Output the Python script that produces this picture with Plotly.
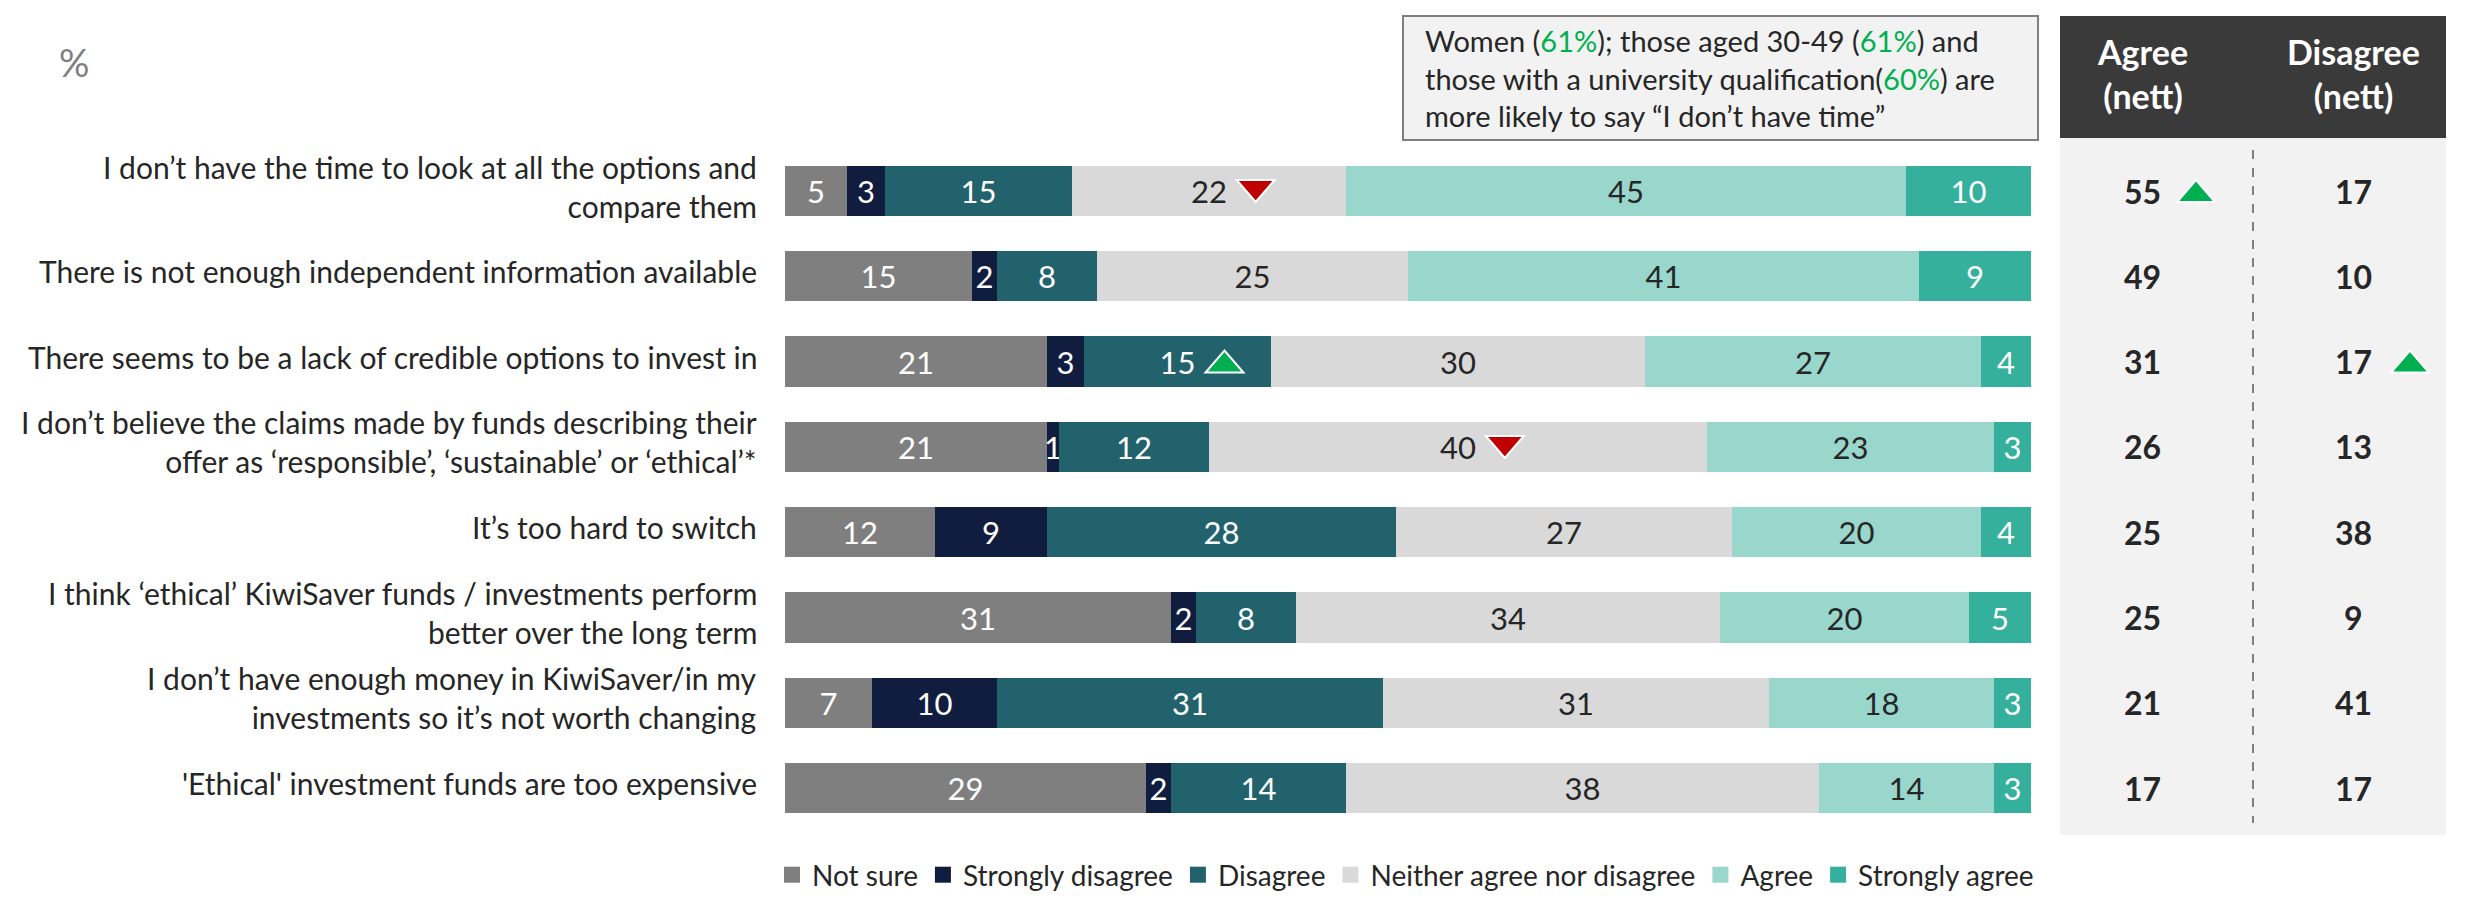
import plotly.graph_objects as go

# ---------------- data ----------------
categories = [
    "I don’t have the time to look at all the options and<br>compare them",
    "There is not enough independent information available",
    "There seems to be a lack of credible options to invest in",
    "I don’t believe the claims made by funds describing their<br>offer as ‘responsible’, ‘sustainable’ or ‘ethical’*",
    "It’s too hard to switch",
    "I think ‘ethical’ KiwiSaver funds / investments perform<br>better over the long term",
    "I don’t have enough money in KiwiSaver/in my<br>investments so it’s not worth changing",
    "'Ethical' investment funds are too expensive",
]
series_names = ["Not sure", "Strongly disagree", "Disagree",
                "Neither agree nor disagree", "Agree", "Strongly agree"]
not_sure          = [5, 15, 21, 21, 12, 31, 7, 29]
strongly_disagree = [3, 2, 3, 1, 9, 2, 10, 2]
disagree          = [15, 8, 15, 12, 28, 8, 31, 14]
neither           = [22, 25, 30, 40, 27, 34, 31, 38]
agree             = [45, 41, 27, 23, 20, 20, 18, 14]
strongly_agree    = [10, 9, 4, 3, 4, 5, 3, 3]
agree_nett    = [55, 49, 31, 26, 25, 25, 21, 17]
disagree_nett = [17, 10, 17, 13, 38, 9, 41, 17]

# significance flags: (row, series index, direction)
bar_flags = [(0, 3, "down"), (2, 2, "up"), (3, 3, "down")]
agree_nett_flags = [0]
disagree_nett_flags = [2]

callout = ("Women (<span style='color:#00b050'>61%</span>); those aged 30-49 "
           "(<span style='color:#00b050'>61%</span>) and<br>those with a university "
           "qualification(<span style='color:#00b050'>60%</span>) are<br>more likely "
           "to say “I don’t have time”")

# ---------------- style / layout ----------------
W, H = 2483, 915
FONT = "Lato"
colors = ["#7f7f7f", "#111d3f", "#21626c", "#d9d9d9", "#99d7cd", "#35b09d"]
text_colors = ["white", "white", "white", "#262626", "#262626", "white"]
BAR_L, BAR_R = 785, 2031
ROW0_Y, ROW_STEP = 191, 85.3
PANEL_L, PANEL_R = 2060, 2446
HEAD_T, HEAD_B, PANEL_B = 16, 138, 835
COL_A, COL_D, DIV_X = 2142, 2353, 2253
RED, GREEN = "#c00000", "#00b050"


def px(x):
    return x / W


def py(y):
    return 1 - y / H


def tri_path(direction, dx):
    hw, hh = 19, 11
    if direction == "down":
        return f"M{dx - hw},{hh} L{dx + hw},{hh} L{dx},{-hh} Z"
    return f"M{dx - hw},{-hh} L{dx + hw},{-hh} L{dx},{hh} Z"


series = [not_sure, strongly_disagree, disagree, neither, agree, strongly_agree]
rows = list(range(len(categories)))

fig = go.Figure()
for name, vals, c, tc in zip(series_names, series, colors, text_colors):
    fig.add_trace(go.Bar(
        name=name, y=rows, x=vals, orientation="h",
        marker=dict(color=c, line=dict(width=0)),
        text=[str(v) for v in vals], textposition="inside",
        insidetextanchor="middle", textangle=0,
        textfont=dict(color=tc, size=31, family=FONT),
        width=0.59, hoverinfo="skip", showlegend=False,
    ))
# legend entries (square swatches)
for name, c in zip(series_names, colors):
    fig.add_trace(go.Scatter(
        x=[None], y=[None], mode="markers", name=name,
        marker=dict(symbol="square", color=c, size=16), hoverinfo="skip",
    ))

shapes = [
    dict(type="rect", xref="paper", yref="paper", x0=px(PANEL_L), x1=px(PANEL_R),
         y0=py(HEAD_B), y1=py(PANEL_B), fillcolor="#f2f2f2", line=dict(width=0), layer="below"),
    dict(type="rect", xref="paper", yref="paper", x0=px(PANEL_L), x1=px(PANEL_R),
         y0=py(HEAD_T), y1=py(HEAD_B), fillcolor="#3a3a3a", line=dict(width=0), layer="below"),
    dict(type="line", xref="paper", yref="paper", x0=px(DIV_X), x1=px(DIV_X),
         y0=py(150), y1=py(823), line=dict(color="#7f7f7f", width=2, dash="dash")),
    dict(type="rect", xref="paper", yref="paper", x0=px(1403), x1=px(2038),
         y0=py(16), y1=py(140), fillcolor="#f2f2f2", line=dict(color="#7f7f7f", width=2),
         layer="below"),
]

# significance triangles on bars (anchored at segment centre, offset in pixels)
for r, s, d in bar_flags:
    start = sum(series[k][r] for k in range(s))
    shapes.append(dict(
        type="path", xref="x", yref="y", xsizemode="pixel", ysizemode="pixel",
        xanchor=start + series[s][r] / 2, yanchor=r, path=tri_path(d, 47),
        fillcolor=RED if d == "down" else GREEN, line=dict(color="white", width=2),
    ))
# significance triangles in nett panel
for r in agree_nett_flags:
    shapes.append(dict(type="path", xref="paper", yref="y", xsizemode="pixel", ysizemode="pixel",
                       xanchor=px(COL_A), yanchor=r, path=tri_path("up", 54),
                       fillcolor=GREEN, line=dict(color="white", width=2)))
for r in disagree_nett_flags:
    shapes.append(dict(type="path", xref="paper", yref="y", xsizemode="pixel", ysizemode="pixel",
                       xanchor=px(COL_D), yanchor=r, path=tri_path("up", 57),
                       fillcolor=GREEN, line=dict(color="white", width=2)))

annotations = []
for i, c in enumerate(categories):
    annotations.append(dict(x=px(759), xref="paper", y=i, yref="y", text=c, yshift=5,
                            xanchor="right", yanchor="middle", align="right",
                            showarrow=False, font=dict(size=30, color="#262626", family=FONT)))
for i, (a, d) in enumerate(zip(agree_nett, disagree_nett)):
    annotations.append(dict(x=px(COL_A), xref="paper", y=i, yref="y", text=f"<b>{a}</b>",
                            xanchor="center", yanchor="middle", showarrow=False,
                            font=dict(size=32, color="#262626", family=FONT)))
    annotations.append(dict(x=px(COL_D), xref="paper", y=i, yref="y", text=f"<b>{d}</b>",
                            xanchor="center", yanchor="middle", showarrow=False,
                            font=dict(size=32, color="#262626", family=FONT)))
for x, t in [(COL_A, "Agree<br>(nett)"), (COL_D, "Disagree<br>(nett)")]:
    annotations.append(dict(x=px(x), xref="paper", y=py(74), yref="paper", text=f"<b>{t}</b>",
                            showarrow=False, xanchor="center", yanchor="middle", align="center",
                            font=dict(size=34, color="white", family=FONT)))
annotations.append(dict(x=px(1423), xref="paper", y=py(78), yref="paper", text=callout,
                        xanchor="left", yanchor="middle", align="left", showarrow=False,
                        font=dict(size=29, color="#262626", family=FONT)))
annotations.append(dict(x=px(74), xref="paper", y=py(62), yref="paper", text="%",
                        showarrow=False, xanchor="center", yanchor="middle",
                        font=dict(size=38, color="#7f7f7f", family=FONT)))

fig.update_layout(
    width=W, height=H, margin=dict(l=0, r=0, t=0, b=0),
    paper_bgcolor="white", plot_bgcolor="rgba(0,0,0,0)",
    barmode="stack", bargap=0,
    font=dict(family=FONT, color="#262626"),
    uniformtext=dict(minsize=31, mode="show"),
    xaxis=dict(domain=[px(BAR_L), px(BAR_R)], range=[0, 100], visible=False, fixedrange=True),
    yaxis=dict(domain=[0, 1], range=[(H - ROW0_Y) / ROW_STEP, -ROW0_Y / ROW_STEP],
               visible=False, fixedrange=True),
    legend=dict(orientation="h", x=px(772), xanchor="left", y=py(875), yanchor="middle",
                font=dict(size=28, color="#262626", family=FONT), traceorder="normal",
                itemclick=False, bgcolor="rgba(0,0,0,0)", itemsizing="trace"),
    shapes=shapes, annotations=annotations, showlegend=True,
)

fig.write_html("out.html", config={"displayModeBar": False},
               post_script="document.body.style.margin='0';")
